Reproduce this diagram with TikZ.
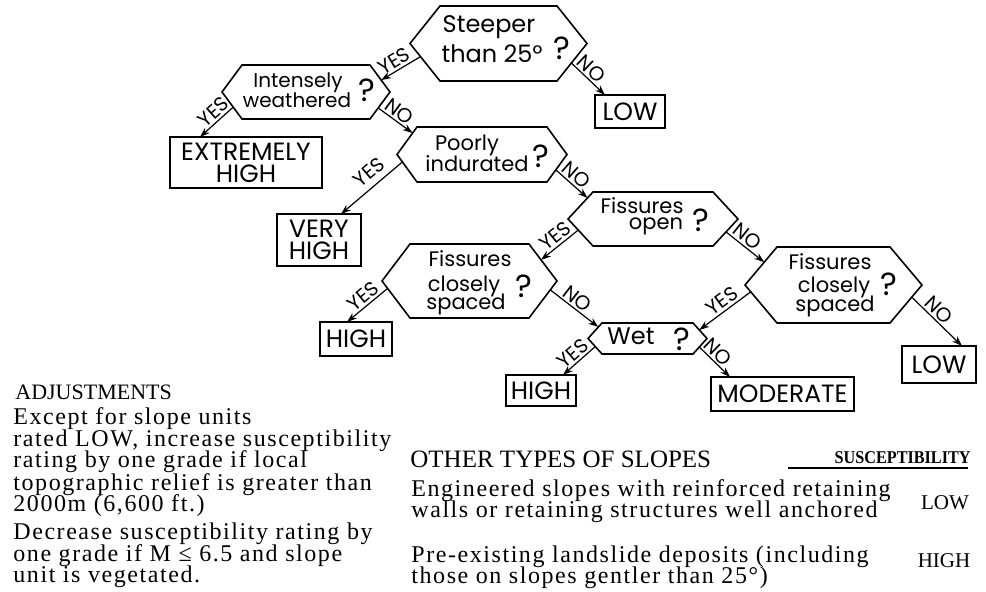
\documentclass[tikz,border=0pt]{standalone}
\usepackage{fontspec}
\setmainfont{Poppins}
\newfontfamily\bodyf[LetterSpace=6.5]{Liberation Serif}
\newfontfamily\seriff{Liberation Serif}
\newfontfamily\serifcond[FakeStretch=0.9]{Liberation Serif}
\usetikzlibrary{arrows.meta,calc}
\tikzset{
  hexline/.style={line width=0.8pt, line join=miter},
  hexbase/.style={draw=none, inner sep=0pt, outer sep=0pt},
  box/.style={draw, line width=0.8pt, inner sep=0pt, outer sep=0pt, align=center, font=\fontsize{12.5}{11}\selectfont},
  qbig/.style={inner sep=0pt, anchor=base, font=\fontsize{12}{12}\selectfont},
  qmid/.style={inner sep=0pt, anchor=base, font=\fontsize{10.5}{10.5}\selectfont},
  qsmall/.style={inner sep=0pt, anchor=base, font=\fontsize{10}{10}\selectfont},
  qmark/.style={inner sep=0pt, font=\fontsize{16}{16}\selectfont},
  conn/.style={line width=0.6pt, -{Stealth[length=5pt,width=3.5pt]}},
  lbl/.style={sloped, above, inner sep=1pt, font=\fontsize{10}{10}\selectfont},
  bodyline/.style={anchor=base west, inner sep=0pt, font=\bodyf\fontsize{12}{12}\selectfont},
  headline/.style={anchor=base west, inner sep=0pt, font=\seriff\fontsize{11}{11}\selectfont},
}
\newcommand\hexagonnode[6]{%
  \node[hexbase, minimum width=#4pt, minimum height=#5pt] (#1) at (#2,#3) {};
  \coordinate (#1-tl) at ([shift={(#6,0)}]#1.north west);
  \coordinate (#1-tr) at ([shift={(-#6,0)}]#1.north east);
  \coordinate (#1-bl) at ([shift={(#6,0)}]#1.south west);
  \coordinate (#1-br) at ([shift={(-#6,0)}]#1.south east);
  \draw[hexline] (#1.west) -- (#1-tl) -- (#1-tr) -- (#1.east) -- (#1-br) -- (#1-bl) -- cycle;
}
\begin{document}
\begin{tikzpicture}[x=0.5pt, y=-0.5pt]
\fill[white] (0,0) rectangle (986,592);
\useasboundingbox (0,0) rectangle (986,592);

% hexagons
\hexagonnode{h1}{498.5}{43.5}{88.5}{37.5}{30}
\hexagonnode{h2}{306}{92}{84}{27}{20}
\hexagonnode{h3}{482}{154.5}{85}{27.5}{20}
\hexagonnode{h4}{653}{219}{85}{27}{25}
\hexagonnode{h5}{833.5}{285}{88.5}{38}{32}
\hexagonnode{h6}{469.5}{281}{87.5}{37}{28}
\hexagonnode{wet}{647.5}{338.5}{59.5}{15.5}{14}

% hexagon texts
\node[qbig] (t1a) at (489,33) {Steeper};
\node[qbig] (t1b) at (492,63) {than 25°};
\node[qmark] (q1) at (562,48) {?};
\node[qsmall] (t2a) at (298,88) {Intensely};
\node[qsmall] (t2b) at (297,108) {weathered};
\node[qmark] (q2) at (367,90) {?};
\node[qmid] (t3a) at (467,151) {Poorly};
\node[qmid] (t3b) at (477,172) {indurated};
\node[qmark] (q3) at (541,156) {?};
\node[qmid] (t4a) at (642,214) {Fissures};
\node[qmid] (t4b) at (656,230) {open};
\node[qmark] (q4) at (701,220) {?};
\node[qmid] (t5a) at (830,270) {Fissures};
\node[qmid] (t5b) at (834,293) {closely};
\node[qmid] (t5c) at (835,312) {spaced};
\node[qmark] (q5) at (889,284) {?};
\node[qmid] (t6a) at (470,267) {Fissures};
\node[qmid] (t6b) at (464,292) {closely};
\node[qmid] (t6c) at (466,310) {spaced};
\node[qmark] (q6) at (524,286) {?};
\node[qbig] (t7a) at (631,345) {Wet};
\node[qmark] (q7) at (682,339) {?};

% result boxes
\node[box, minimum width=35pt, minimum height=16.5pt] (low1) at (630,111.5) {LOW};
\node[box, minimum width=76pt, minimum height=25.5pt] (ext) at (246,162.5) {EXTREMELY\\HIGH};
\node[box, minimum width=42pt, minimum height=26pt] (vh) at (319,240) {VERY\\HIGH};
\node[box, minimum width=36pt, minimum height=17pt] (high1) at (356,339) {HIGH};
\node[box, minimum width=35pt, minimum height=15.5pt] (high2) at (541,390.5) {HIGH};
\node[box, minimum width=71.5pt, minimum height=17pt] (mod) at (782.5,394) {MODERATE};
\node[box, minimum width=37pt, minimum height=18.5pt] (low2) at (939,364.5) {LOW};

% connectors
\draw[conn] ($(h1.west)!0.35!(h1-bl)$) -- node[lbl, pos=0.55]{YES} ($(h2.east)!0.44!(h2-tr)$);
\draw[conn] ($(h1.east)!0.52!(h1-br)$) -- node[lbl, pos=0.4]{NO} ([shift={(-25,0)}]low1.north);
\draw[conn] ($(h2.west)!0.56!(h2-bl)$) -- node[lbl, pos=0.4]{YES} ([shift={(-46,0)}]ext.north);
\draw[conn] ($(h2.east)!0.59!(h2-br)$) -- node[lbl, pos=0.45]{NO} ($(h3.west)!0.78!(h3-tl)$);
\draw[conn] ($(h3.west)!0.27!(h3-bl)$) -- node[lbl, pos=0.4, above=2pt]{YES} ([shift={(22,0)}]vh.north);
\draw[conn] ($(h3.east)!0.56!(h3-br)$) -- node[lbl, pos=0.45]{NO} ($(h4.west)!0.78!(h4-tl)$);
\draw[conn] ($(h4.west)!0.41!(h4-bl)$) -- node[lbl, pos=0.45]{YES} ($(h6.east)!0.57!(h6-tr)$);
\draw[conn] ($(h4.east)!0.48!(h4-br)$) -- node[lbl, pos=0.4]{NO} ($(h5.west)!0.6!(h5-tl)$);
\draw[conn] ($(h6.west)!0.2!(h6-bl)$) -- node[lbl, pos=0.45]{YES} ([shift={(-9,0)}]high1.north);
\draw[conn] ($(h6.east)!0.24!(h6-br)$) -- node[lbl, pos=0.45]{NO} ($(wet.west)!0.74!(wet-tl)$);
\draw[conn] ($(h5.west)!0.18!(h5-bl)$) -- node[lbl, pos=0.45]{YES} ($(wet.east)!0.55!(wet-tr)$);
\draw[conn] ($(h5.east)!0.32!(h5-br)$) -- node[lbl, pos=0.4]{NO} ([shift={(23,0)}]low2.north);
\draw[conn] ($(wet.west)!0.52!(wet-bl)$) -- node[lbl, pos=0.5]{YES} ([shift={(22,0)}]high2.north);
\draw[conn] ($(wet.east)!0.55!(wet-br)$) -- node[lbl, pos=0.4]{NO} ([shift={(-52.5,0)}]mod.north);

% adjustments
\node[headline] (adjh) at (15,400) {ADJUSTMENTS};
\node[bodyline] (adj1) at (13,425) {Except for slope units};
\node[bodyline] (adj2) at (13,447) {rated LOW, increase susceptibility};
\node[bodyline] (adj3) at (13,468) {rating by one grade if local};
\node[bodyline] (adj4) at (13,491) {topographic relief is greater than};
\node[bodyline] (adj5) at (13,512) {2000m (6,600 ft.)};
\node[bodyline] (adj6) at (13,540) {Decrease susceptibility rating by};
\node[bodyline] (adj7) at (13,562) {one grade if M ≤ 6.5 and slope};
\node[bodyline] (adj8) at (13,583) {unit is vegetated.};

% other types of slopes
\node[headline, font=\seriff\fontsize{12.5}{12.5}\selectfont] (oth) at (410,468) {OTHER TYPES OF SLOPES};
\node[anchor=base east, inner sep=0pt, font=\serifcond\bfseries\fontsize{9}{9}\selectfont] (susc) at (971,464) {SUSCEPTIBILITY};
\draw[line width=1.1pt] ([shift={(-183,4)}]susc.base east) -- ([shift={(-3,4)}]susc.base east);
\node[bodyline] (o1) at (411,497) {Engineered slopes with reinforced retaining};
\node[bodyline] (o2) at (411,518) {walls or retaining structures well anchored};
\node[bodyline] (o3) at (411,563) {Pre-existing landslide deposits (including};
\node[bodyline] (o4) at (411,584) {those on slopes gentler than 25°)};
\node[anchor=base, inner sep=0pt, font=\seriff\fontsize{10.5}{10.5}\selectfont] (slow) at (945,510) {LOW};
\node[anchor=base, inner sep=0pt, font=\seriff\fontsize{10.5}{10.5}\selectfont] (shigh) at (944,568) {HIGH};
\end{tikzpicture}
\end{document}
